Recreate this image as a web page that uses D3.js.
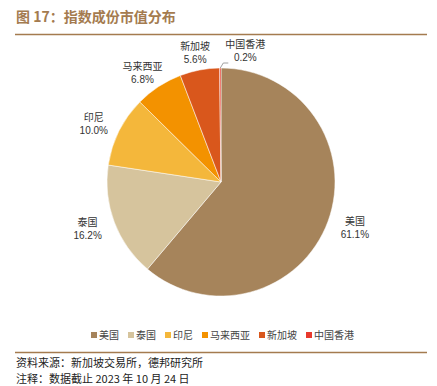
<html lang="zh">
<head>
  <meta http-equiv="Content-Type" content="text/html; charset=UTF-8">
  <title>指数成份市值分布</title>
  <script type="text/javascript" src="https://cdn.jsdelivr.net/npm/d3@7"></script>
  <style type="text/css">
    body { margin: 0; background: #fff; }
    text { font-family: "Liberation Sans", "Noto Sans CJK SC", sans-serif; }
  </style>
</head>
<body>
  <script type="text/javascript">
    var categories = ["美国", "泰国", "印尼", "马来西亚", "新加坡", "中国香港"];
    var values = [61.1, 16.2, 10.0, 6.8, 5.6, 0.2];
    var colors = ["#A6845B", "#D6C49D", "#F4B73B", "#F39200", "#D9571C", "#E8392D"];

    var W = 437, H = 386;
    var svg = d3.select("body").append("svg").attr("width", W).attr("height", H);
    var brown = "#A47B4F";

    // title and rules
    svg.append("text").attr("x", 16).attr("y", 22)
      .attr("fill", brown).attr("font-size", 14).attr("font-weight", "bold")
      .style("font-family", "'Noto Sans CJK SC', sans-serif")
      .text("图 17：指数成份市值分布");
    svg.append("line").attr("x1", 15).attr("x2", 427).attr("y1", 34.5).attr("y2", 34.5)
      .attr("stroke", brown).attr("stroke-width", 1.5);
    svg.append("line").attr("x1", 15).attr("x2", 427).attr("y1", 352.5).attr("y2", 352.5)
      .attr("stroke", brown).attr("stroke-width", 1.5);

    var cx = 221, cy = 182, r = 114;
    var data = categories.map(function(c, i) { return { name: c, value: values[i], color: colors[i] }; });
    var pie = d3.pie().sort(null).value(function(d) { return d.value; });
    var arcs = pie(data);
    var arc = d3.arc().innerRadius(0).outerRadius(r);

    var g = svg.append("g").attr("transform", "translate(" + cx + "," + cy + ")");
    g.selectAll("path").data(arcs).enter().append("path")
      .attr("d", arc)
      .attr("fill", function(d) { return d.data.color; })
      .attr("stroke", "#fff").attr("stroke-width", 0.5);

    // labels
    var R = 136;
    arcs.forEach(function(d, i) {
      var a = (d.startAngle + d.endAngle) / 2;
      var s = Math.sin(a), c = Math.cos(a);
      var lx, ly;
      if (d.data.value < 1) {
        // small slice: leader line to the right
        var px = r * s, py = -r * c;
        g.append("polyline")
          .attr("points", [[px, py], [px + 3, py - 5], [px + 8, py - 5]].map(function(p) { return p.join(","); }).join(" "))
          .attr("fill", "none").attr("stroke", "#888").attr("stroke-width", 0.8);
        lx = px + 25; ly = py - 18;
      } else {
        var w = d.data.name.length * 10;
        lx = R * s + s * w * 0.5 * Math.abs(s) * 0.7;
        ly = -R * c * 0.97;
      }
      var t = g.append("text").attr("text-anchor", "middle").attr("fill", "#333").attr("font-size", 10);
      t.append("tspan").attr("x", lx).attr("y", ly - 2)
        .style("font-family", "'Noto Sans CJK SC', sans-serif").text(d.data.name);
      t.append("tspan").attr("x", lx).attr("y", ly + 11)
        .text(d.data.value.toFixed(1) + "%");
    });

    // legend
    var legend = svg.append("g").attr("transform", "translate(0,335)");
    var lxPos = 91;
    data.forEach(function(d) {
      var item = legend.append("g").attr("transform", "translate(" + lxPos + ",0)");
      item.append("rect").attr("x", 0).attr("y", -3).attr("width", 6).attr("height", 6).attr("fill", d.color);
      var tx = item.append("text").attr("x", 8).attr("y", 3.5).attr("font-size", 10).attr("fill", "#444")
        .style("font-family", "'Noto Sans CJK SC', sans-serif").text(d.name);
      lxPos += 8 + tx.node().getComputedTextLength() + 9;
    });

    // footer
    svg.append("text").attr("x", 16).attr("y", 367).attr("font-size", 11).attr("fill", "#222")
      .style("font-family", "'Noto Sans CJK SC', sans-serif").text("资料来源：新加坡交易所，德邦研究所");
    svg.append("text").attr("x", 16).attr("y", 383).attr("font-size", 11).attr("fill", "#222")
      .style("font-family", "'Noto Sans CJK SC', sans-serif").text("注释：数据截止 2023 年 10 月 24 日");
  </script>
</body>
</html>
